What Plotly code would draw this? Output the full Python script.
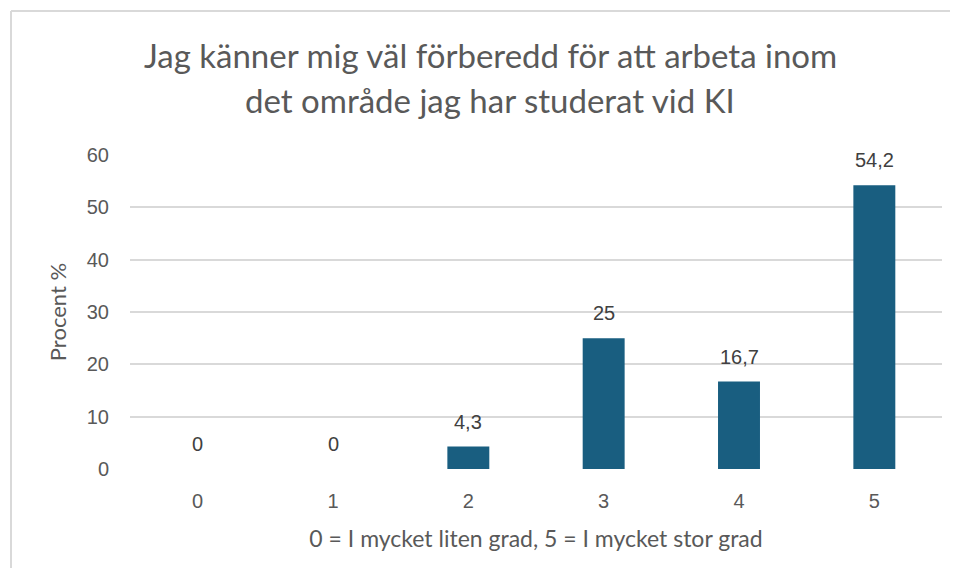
import plotly.graph_objects as go

categories = ["0", "1", "2", "3", "4", "5"]
values = [0, 0, 4.3, 25, 16.7, 54.2]
labels = [str(v).replace(".", ",") for v in values]
y_ticks = [0, 10, 20, 30, 40, 50, 60]

title_lines = ["Jag känner mig väl förberedd för att arbeta inom",
               "det område jag har studerat vid KI"]
x_title = "0 = I mycket liten grad, 5 = I mycket stor grad"
y_title = "Procent %"

bar_color = "#195E80"
grid_color = "#D9D9D9"
text_gray = "#595959"

# page body has an 8px margin; figure is drawn at (8, 8) on screen.
OFF = 8
W, H = 958 - 2 * OFF, 580 - 2 * OFF - 4
plot_left, plot_right, plot_top, plot_bottom = 130, 942, 155, 469
ml = plot_left - OFF
mr = W - (plot_right - OFF)
mt = plot_top - OFF
mb = H - (plot_bottom - OFF)
pw, ph = W - ml - mr, H - mt - mb

fig = go.Figure()
fig.add_trace(go.Bar(
    x=categories, y=values, marker=dict(color=bar_color, line=dict(width=0)),
    width=0.31, hoverinfo="skip",
))

for c, v, t in zip(categories, values, labels):
    fig.add_annotation(x=c, y=v, text=t, showarrow=False, yanchor="middle",
                       yshift=25, font=dict(family="Liberation Sans, Arial", size=20, color="#404040"))

def px_x(p):
    return (p - OFF - ml) / pw

def px_y(p):
    return (H - mb - (p - OFF)) / ph

for line, ypx in zip(title_lines, [55, 100]):
    fig.add_annotation(xref="paper", yref="paper", x=px_x(490), y=px_y(ypx),
                       xanchor="center", yanchor="middle", showarrow=False, text=line,
                       font=dict(family="Lato", size=33, color=text_gray))

fig.add_shape(type="line", xref="paper", yref="paper",
              x0=px_x(11), x1=px_x(OFF + W), y0=px_y(11), y1=px_y(11),
              line=dict(color=grid_color, width=2), layer="below")
fig.add_shape(type="line", xref="paper", yref="paper",
              x0=px_x(11), x1=px_x(11), y0=px_y(11), y1=px_y(OFF + H),
              line=dict(color=grid_color, width=2), layer="below")

fig.update_layout(
    width=W, height=H,
    margin=dict(l=ml, r=mr, t=mt, b=mb),
    paper_bgcolor="white", plot_bgcolor="white",
    showlegend=False,
    xaxis=dict(
        type="category", range=[-0.5, 5.5], showgrid=False, zeroline=False,
        showline=False, ticks="", ticklabelstandoff=18,
        tickfont=dict(family="Liberation Sans, Arial", size=20, color=text_gray),
        title=dict(text=x_title, standoff=19,
                   font=dict(family="Lato", size=23, color=text_gray)),
    ),
    yaxis=dict(
        range=[0, 60], tickvals=y_ticks, showgrid=True, gridcolor=grid_color, gridwidth=1.5,
        zeroline=False, showline=False, ticks="", ticklabelstandoff=20,
        tickfont=dict(family="Liberation Sans, Arial", size=20, color=text_gray),
        title=dict(text=y_title, standoff=14,
                   font=dict(family="Lato", size=22, color=text_gray)),
    ),
)

fig.write_html("out.html", config={"displayModeBar": False})
